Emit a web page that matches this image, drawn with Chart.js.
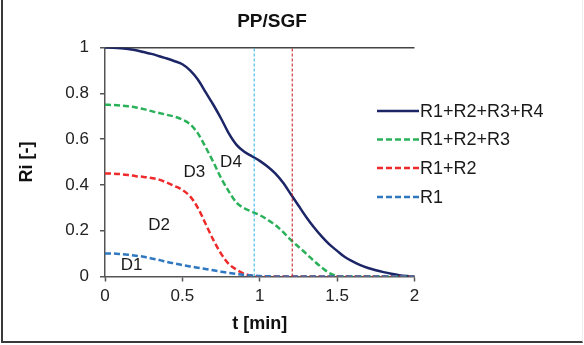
<!DOCTYPE html>
<html lang="en">
<head>
    <meta charset="UTF-8">
    <title>PP/SGF</title>
    <script src="https://cdn.jsdelivr.net/npm/chart.js@4.4.1/dist/chart.umd.min.js"></script>
    <style>
        body { margin: 0; background: #fff; }
        #wrap { position: relative; width: 584px; height: 345px; }
        #frame {
            position: absolute; left: 1px; top: 0; width: 579px; height: 341px;
            border-left: 2px solid #3a3a3a; border-bottom: 2px solid #3a3a3a;
            border-right: 1px solid #eeeeee; pointer-events: none;
        }
    </style>
</head>
<body>
    <div id="wrap">
        <canvas id="riChart" width="584" height="345"></canvas>
        <div id="frame"></div>
    </div>

    <script>
        // time axis (min)
        const times = [0, 0.05, 0.1, 0.15, 0.2, 0.25, 0.3, 0.35, 0.4, 0.45, 0.5, 0.55, 0.6, 0.65, 0.7, 0.75, 0.8, 0.85, 0.9, 0.95,
                       1.0, 1.05, 1.1, 1.15, 1.2, 1.25, 1.3, 1.35, 1.4, 1.45, 1.5, 1.55, 1.6, 1.65, 1.7, 1.75, 1.8, 1.85, 1.9, 1.95, 2.0];

        // cumulative fractions
        const r1234 = [1.0, 0.999, 0.997, 0.993, 0.988, 0.98, 0.972, 0.962, 0.952, 0.94, 0.927, 0.9, 0.86, 0.805, 0.75, 0.69, 0.625, 0.575, 0.545, 0.525,
                       0.505, 0.48, 0.45, 0.41, 0.36, 0.31, 0.26, 0.215, 0.175, 0.14, 0.112, 0.085, 0.066, 0.05, 0.037, 0.027, 0.019, 0.012, 0.006, 0.002, 0.0];
        const r123 = [0.75, 0.749, 0.747, 0.743, 0.738, 0.731, 0.722, 0.714, 0.706, 0.698, 0.685, 0.665, 0.625, 0.565, 0.5, 0.43, 0.372, 0.322, 0.298, 0.283,
                      0.268, 0.248, 0.225, 0.195, 0.16, 0.13, 0.1, 0.068, 0.04, 0.015, 0.002, 0, 0, 0, 0, 0, 0, 0, 0, 0, 0];
        const r12 = [0.45, 0.449, 0.447, 0.443, 0.438, 0.435, 0.43, 0.423, 0.41, 0.395, 0.378, 0.35, 0.3, 0.23, 0.16, 0.1, 0.055, 0.03, 0.012, 0.003,
                     0, 0, 0, 0, 0, 0, 0, 0, 0, 0, 0, 0, 0, 0, 0, 0, 0, 0, 0, 0, 0];
        const r1 = [0.1, 0.1, 0.098, 0.095, 0.091, 0.086, 0.079, 0.072, 0.064, 0.057, 0.05, 0.044, 0.038, 0.033, 0.027, 0.021, 0.016, 0.011, 0.007, 0.004,
                    0.002, 0.001, 0, 0, 0, 0, 0, 0, 0, 0, 0, 0, 0, 0, 0, 0, 0, 0, 0, 0, 0];

        const seriesNames = ['R1+R2+R3+R4', 'R1+R2+R3', 'R1+R2', 'R1'];
        const seriesColors = ['#1c2566', '#2bb15a', '#ee2a2a', '#2f78c0'];

        // vertical marker times
        const markerTimes = [0.964, 1.21];
        const markerColors = ['#2ab3e6', '#c4161c'];

        // region labels
        const regionNames = ['D1', 'D2', 'D3', 'D4'];
        const regionT = [0.172, 0.349, 0.577, 0.814];
        const regionR = [0.05, 0.222, 0.454, 0.497];

        const FONT = 'Liberation Sans, Arial, sans-serif';

        function toPoints(values) {
            return times.map((t, i) => ({ x: t, y: values[i] }));
        }

        // plain number labels: 0, 0.2, ... 1
        const plainTick = (v) => String(+v.toFixed(2));

        const lineSets = [r1234, r123, r12, r1].map((vals, i) => ({
            label: seriesNames[i],
            data: toPoints(vals),
            borderColor: seriesColors[i],
            borderWidth: 2.5,
            borderDash: i === 0 ? [] : [6, 3],
            pointRadius: 0,
            cubicInterpolationMode: 'monotone',
            fill: false
        }));

        const markerSets = markerTimes.map((t, i) => ({
            label: 'marker' + i,
            data: [{ x: t, y: 0 }, { x: t, y: 1 }],
            borderColor: markerColors[i],
            borderWidth: 1,
            borderDash: [3, 2],
            pointRadius: 0,
            fill: false
        }));

        // legend and D-labels drawn on top of the plot
        const overlay = {
            id: 'overlay',
            afterDraw(chart) {
                const ctx = chart.ctx;
                const xs = chart.scales.x, ys = chart.scales.y;
                ctx.save();

                ctx.fillStyle = '#1a1a1a';
                ctx.font = '17px ' + FONT;
                ctx.textAlign = 'center';
                ctx.textBaseline = 'middle';
                regionNames.forEach((name, i) => {
                    ctx.fillText(name, xs.getPixelForValue(regionT[i]), ys.getPixelForValue(regionR[i]));
                });

                const rowY = [111, 139.5, 168, 197];
                ctx.font = '18px ' + FONT;
                ctx.textAlign = 'left';
                seriesNames.forEach((name, i) => {
                    ctx.beginPath();
                    ctx.strokeStyle = seriesColors[i];
                    ctx.lineWidth = 2.5;
                    ctx.setLineDash(i === 0 ? [] : [6, 3]);
                    ctx.moveTo(377, rowY[i]);
                    ctx.lineTo(419, rowY[i]);
                    ctx.stroke();
                    ctx.fillStyle = '#1a1a1a';
                    ctx.fillText(name, 420, rowY[i] + 1);
                });

                ctx.font = 'bold 19px ' + FONT;
                ctx.textAlign = 'center';
                ctx.fillStyle = '#111';
                ctx.fillText('PP/SGF', 272, 22);
                ctx.restore();
            }
        };

        new Chart(document.getElementById('riChart'), {
            type: 'line',
            data: { datasets: [...markerSets, ...lineSets.slice().reverse()] },
            options: {
                responsive: false,
                animation: false,
                devicePixelRatio: 1,
                layout: { padding: { top: 47.5, right: 169.5, left: 0, bottom: 0 } },
                plugins: { legend: { display: false }, tooltip: { enabled: false } },
                scales: {
                    x: {
                        type: 'linear',
                        min: 0,
                        max: 2,
                        ticks: { stepSize: 0.5, color: '#222', font: { family: FONT, size: 17 }, padding: 5, maxRotation: 0, callback: plainTick },
                        grid: { drawOnChartArea: false, tickLength: 5, tickColor: '#555', tickWidth: 1.5 },
                        border: { color: '#555', width: 1.5 },
                        title: { display: true, text: 't [min]', color: '#111', font: { family: FONT, size: 18, weight: 'bold' }, padding: { top: 0, bottom: 10 } },
                        afterFit: (scale) => { scale.height = 68.5; }
                    },
                    y: {
                        min: 0,
                        max: 1,
                        ticks: { stepSize: 0.2, color: '#222', font: { family: FONT, size: 17 }, padding: 11, callback: plainTick },
                        grid: {
                            color: (c) => (c.tick && c.tick.value === 1 ? '#444' : 'rgba(0,0,0,0)'),
                            lineWidth: 1.5,
                            tickLength: 5,
                            tickColor: '#555',
                            tickWidth: 1.5
                        },
                        border: { color: '#555', width: 1.5 },
                        title: { display: true, text: 'Ri [-]', color: '#111', font: { family: FONT, size: 18, weight: 'bold' }, padding: { top: 16, bottom: 0 } },
                        afterFit: (scale) => { scale.width = 105; }
                    }
                }
            },
            plugins: [overlay]
        });
    </script>
</body>
</html>
